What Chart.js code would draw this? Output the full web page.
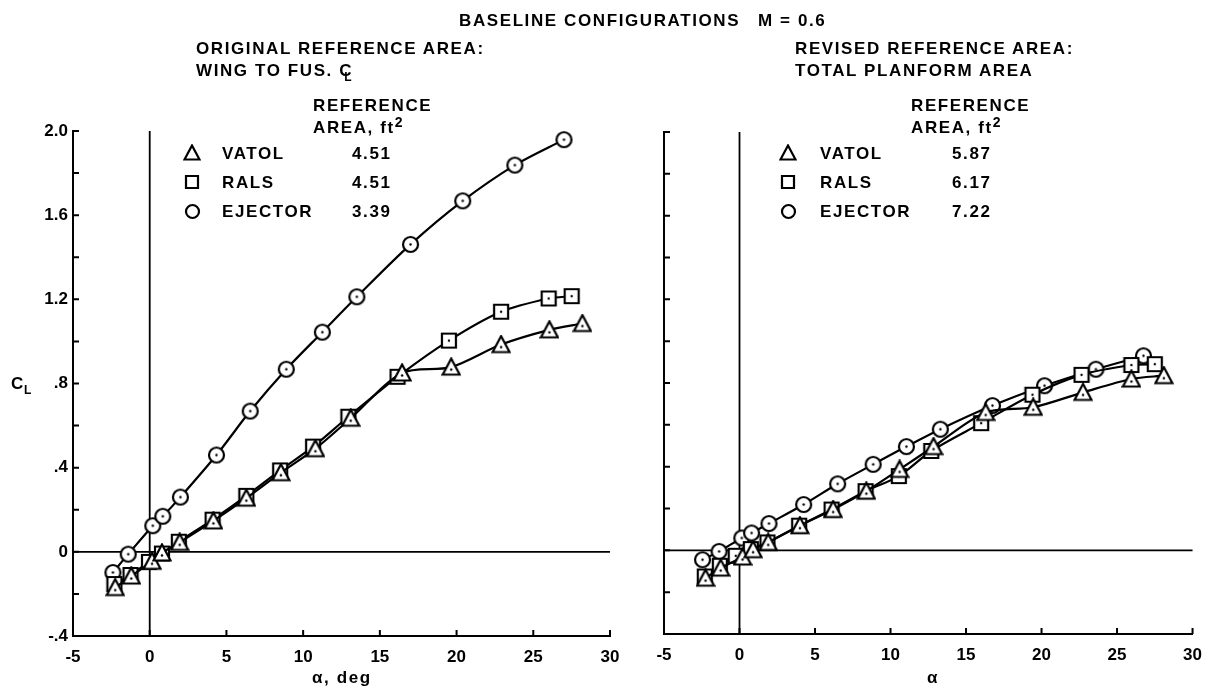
<!DOCTYPE html>
<html>
<head>
<meta charset="utf-8">
<script src="https://cdn.jsdelivr.net/npm/chart.js@4.4.1/dist/chart.umd.min.js"></script>
<style>
  body { margin: 0; background: #fff; }
  #page { position: relative; width: 1213px; height: 686px; overflow: hidden; background: #fff; }
  canvas { position: absolute; top: 0; }
  .t { position: absolute; font: bold 17px "Liberation Sans", Arial, sans-serif; letter-spacing: 1.6px;
       line-height: 17px; white-space: pre; color: #000; }
  .sub { font-size: 12px; position: relative; }
  .mk { position: absolute; }
</style>
</head>
<body>
<div id="page">
  <canvas id="chartLeft" width="640" height="686" style="left:0px"></canvas>
  <canvas id="chartRight" width="613" height="686" style="left:600px"></canvas>
</div>
<script>
// datos: angulo de ataque (alpha) y CL
// panel izquierdo: area de referencia original
const alphaVatolL = [-2.25, -1.2, 0.15, 0.8, 1.95, 4.15, 6.3, 8.55, 10.8, 13.1, 16.45, 19.65, 22.9, 26.05, 28.2];
const clVatolL    = [-0.17, -0.115, -0.045, -0.005, 0.045, 0.147, 0.255, 0.376, 0.49, 0.635, 0.85, 0.878, 0.985, 1.055, 1.085];
const alphaRalsL  = [-2.3, -1.25, -0.05, 0.8, 1.9, 4.1, 6.3, 8.5, 10.65, 12.95, 16.15, 19.5, 22.9, 26.0, 27.5];
const clRalsL     = [-0.153, -0.11, -0.048, -0.008, 0.048, 0.153, 0.266, 0.387, 0.5, 0.642, 0.832, 1.004, 1.141, 1.204, 1.215];
const alphaEjL    = [-2.4, -1.4, 0.2, 0.85, 2.0, 4.35, 6.55, 8.9, 11.25, 13.5, 17.0, 20.4, 23.8, 27.0];
const clEjL       = [-0.098, -0.011, 0.124, 0.169, 0.26, 0.46, 0.669, 0.868, 1.044, 1.212, 1.461, 1.668, 1.838, 1.959];

// panel derecho: area de referencia revisada
const alphaVatolR = [-2.25, -1.25, 0.2, 0.9, 1.9, 4.0, 6.2, 8.4, 10.6, 12.85, 16.3, 19.45, 22.75, 25.95, 28.1];
const clVatolR    = [-0.133, -0.085, -0.032, 0.003, 0.038, 0.118, 0.195, 0.283, 0.387, 0.496, 0.659, 0.684, 0.755, 0.819, 0.835];
const alphaRalsR  = [-2.3, -1.3, -0.25, 0.75, 1.85, 3.95, 6.1, 8.35, 10.55, 12.7, 16.0, 19.4, 22.65, 25.95, 27.5];
const clRalsR     = [-0.125, -0.074, -0.026, 0.006, 0.038, 0.118, 0.195, 0.283, 0.355, 0.475, 0.608, 0.744, 0.839, 0.886, 0.89];
const alphaEjR    = [-2.45, -1.35, 0.15, 0.8, 1.95, 4.25, 6.5, 8.85, 11.05, 13.3, 16.75, 20.2, 23.6, 26.75];
const clEjR       = [-0.045, -0.005, 0.059, 0.083, 0.128, 0.219, 0.318, 0.411, 0.496, 0.579, 0.692, 0.787, 0.866, 0.93];

const seriesNames = ["VATOL", "RALS", "EJECTOR"];
const seriesMarks = ["triangle", "square", "circle"];
const areasLeft  = ["4.51", "4.51", "3.39"];
const areasRight = ["5.87", "6.17", "7.22"];

const xTicks = { min: -5, max: 30, step: 5 };
const yTicks = { min: -0.4, max: 2.0, step: 0.2 };

const FONT = '"Liberation Sans", Arial, sans-serif';

// simbolo abierto (con punto central en los datos)
function makeMarker(kind, dot, size) {
    const c = document.createElement("canvas");
    c.width = c.height = size;
    const g = c.getContext("2d");
    const m = size / 2;
    g.lineWidth = 2.2;
    g.strokeStyle = "#000";
    g.fillStyle = "#fff";
    g.beginPath();
    if (kind === "circle") {
        g.arc(m, m, m - 2, 0, Math.PI * 2);
    } else if (kind === "square") {
        g.rect(2, 2, size - 4, size - 4);
    } else {
        g.moveTo(m, 1.5);
        g.lineTo(size - 1.5, size - 2.5);
        g.lineTo(1.5, size - 2.5);
        g.closePath();
    }
    g.fill();
    g.stroke();
    if (dot) {
        g.fillStyle = "#000";
        const dy = kind === "triangle" ? m + 2.5 : m;
        g.beginPath();
        g.arc(m, dy, 1.2, 0, Math.PI * 2);
        g.fill();
    }
    return c;
}

const markers = {
    triangle: makeMarker("triangle", true, 20),
    square: makeMarker("square", true, 18),
    circle: makeMarker("circle", true, 19)
};

// lineas de cero y marcas de escala hacia adentro
const axisMarks = {
    id: "axisMarks",
    beforeDatasetsDraw(chart) {
        const { ctx, chartArea: a, scales: { x, y } } = chart;
        ctx.save();
        ctx.strokeStyle = "#000";
        ctx.lineWidth = 1.8;
        const x0 = x.getPixelForValue(0), y0 = y.getPixelForValue(0);
        ctx.beginPath();
        ctx.moveTo(x0, a.top); ctx.lineTo(x0, a.bottom);
        ctx.moveTo(a.left, y0); ctx.lineTo(a.right, y0);
        ctx.stroke();
        ctx.lineWidth = 2;
        ctx.beginPath();
        y.ticks.forEach(t => {
            const p = y.getPixelForValue(t.value);
            ctx.moveTo(a.left, p); ctx.lineTo(a.left + 6, p);
        });
        x.ticks.forEach(t => {
            const p = x.getPixelForValue(t.value);
            ctx.moveTo(p, a.bottom); ctx.lineTo(p, a.bottom - 6);
        });
        ctx.stroke();
        ctx.restore();
    }
};

function fmtCL(v) {
    const n = Math.round(v * 10) / 10;
    if (Math.round(v * 10) % 4 !== 0) return "";
    if (n === 0) return "0";
    if (Math.abs(n) < 1) return (n < 0 ? "-" : "") + "." + Math.round(Math.abs(n) * 10);
    return n.toFixed(1);
}

function pairs(xs, ys) { return xs.map((v, i) => ({ x: v, y: ys[i] })); }

function makeDataset(label, xs, ys, mark) {
    return {
        label: label,
        data: pairs(xs, ys),
        showLine: true,
        borderColor: "#000",
        borderWidth: 2.2,
        tension: 0.3,
        pointStyle: markers[mark],
        pointRadius: 9,
        pointHoverRadius: 9
    };
}

function buildChart(id, sets, showYLabels, yWidth, xHeight, padding) {
    return new Chart(document.getElementById(id), {
        type: "scatter",
        data: {
            datasets: sets.map(s => makeDataset(s[0], s[1], s[2], s[3]))
        },
        options: {
            responsive: false,
            animation: false,
            devicePixelRatio: 1,
            layout: { padding: padding },
            plugins: { legend: { display: false }, tooltip: { enabled: false } },
            scales: {
                x: {
                    type: "linear",
                    min: xTicks.min, max: xTicks.max,
                    grid: { display: false, drawTicks: false },
                    border: { display: true, color: "#000", width: 2 },
                    ticks: {
                        stepSize: xTicks.step,
                        color: "#000",
                        padding: 11,
                        maxRotation: 0,
                        font: { family: FONT, size: 17, weight: "bold" },
                        callback: v => String(v)
                    },
                    afterFit: s => { s.height = xHeight; }
                },
                y: {
                    type: "linear",
                    min: yTicks.min, max: yTicks.max,
                    grid: { display: false, drawTicks: false },
                    border: { display: true, color: "#000", width: 2 },
                    ticks: {
                        stepSize: yTicks.step,
                        color: "#000",
                        padding: 5,
                        autoSkip: false,
                        font: { family: FONT, size: 17, weight: "bold" },
                        callback: v => showYLabels ? fmtCL(v) : ""
                    },
                    afterFit: s => { s.width = yWidth; }
                }
            }
        },
        plugins: [axisMarks]
    });
}

buildChart("chartLeft", [
    ["VATOL", alphaVatolL, clVatolL, "triangle"],
    ["RALS", alphaRalsL, clRalsL, "square"],
    ["EJECTOR", alphaEjL, clEjL, "circle"]
], true, 73, 50, { top: 131, right: 30, left: 0, bottom: 0 });

buildChart("chartRight", [
    ["VATOL", alphaVatolR, clVatolR, "triangle"],
    ["RALS", alphaRalsR, clRalsR, "square"],
    ["EJECTOR", alphaEjR, clEjR, "circle"]
], false, 64, 52, { top: 132, right: 10, left: 0, bottom: 0 });

// textos de la figura
const page = document.getElementById("page");
function addText(html, x, cy, center) {
    const d = document.createElement("div");
    d.className = "t";
    d.innerHTML = html;
    d.style.top = (cy - 8.5) + "px";
    page.appendChild(d);
    if (center) d.style.left = (x - d.offsetWidth / 2) + "px";
    else d.style.left = x + "px";
    return d;
}
function addMarker(kind, cx, cy) {
    const c = makeMarker(kind, false, kind === "triangle" ? 18 : (kind === "circle" ? 17 : 16));
    c.className = "mk";
    c.style.left = (cx - c.width / 2) + "px";
    c.style.top = (cy - c.height / 2) + "px";
    page.appendChild(c);
}

addText("BASELINE CONFIGURATIONS", 459, 20);
addText("M = 0.6", 758, 20);

addText("ORIGINAL REFERENCE AREA:", 196, 48);
addText('WING TO FUS. C<span class="sub" style="left:-9px;top:5px">L</span>', 196, 70);
addText("REVISED REFERENCE AREA:", 795, 48);
addText("TOTAL PLANFORM AREA", 795, 70);

const legendLayout = [
    { mx: 192, nx: 222, vx: 352, rx: 313, vals: areasLeft },
    { mx: 788, nx: 820, vx: 952, rx: 911, vals: areasRight }
];
const rowY = [153, 182, 211];
legendLayout.forEach(L => {
    addText("REFERENCE", L.rx, 105);
    addText('AREA, ft<span class="sub" style="top:-6px;font-size:14px">2</span>', L.rx, 127);
    seriesNames.forEach((name, i) => {
        addMarker(seriesMarks[i], L.mx, rowY[i]);
        addText(name, L.nx, rowY[i]);
        addText(L.vals[i], L.vx, rowY[i]);
    });
});

addText('C<span class="sub" style="top:5px;left:-1px">L</span>', 11, 383);
addText("\u03b1, deg", 342, 677, true);
addText("\u03b1", 933, 677, true);
</script>
</body>
</html>
